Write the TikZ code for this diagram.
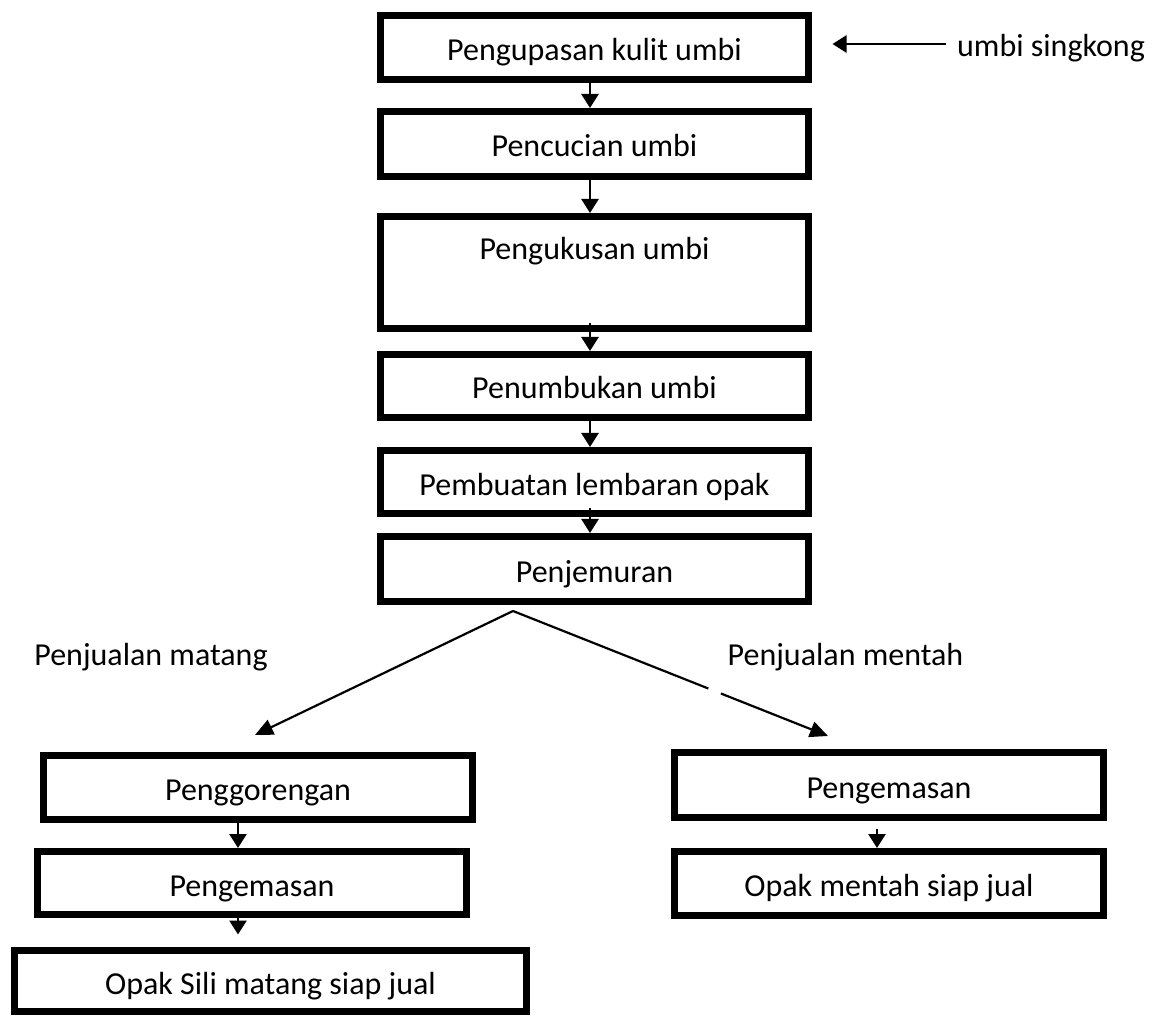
\documentclass[tikz,border=0pt]{standalone}
\usepackage{fontspec}
\setmainfont{Carlito}
\usetikzlibrary{arrows.meta,calc}
\tikzset{
  procbox/.style={draw, line width=3.5pt, minimum width=214pt, inner sep=0pt, text height=13pt, text depth=0pt, align=center},
  lbl/.style={inner sep=0pt, text height=13pt, text depth=0pt},
  flow/.style={line width=1.3pt, -{Triangle[width=8.5pt,length=7pt]}},
  branch/.style={line width=1.1pt},
  branchtip/.style={branch, -{Triangle[width=8pt,length=9pt]}},
}
\begin{document}
\begin{tikzpicture}[x=0.5pt,y=-0.5pt,font=\fontsize{16}{18}\selectfont]
  \useasboundingbox (0,0) rectangle (1153,1016);
  % main column
  \node[procbox, minimum height=32pt] (kupas) at (594.5,47.5) {Pengupasan kulit umbi};
  \node[procbox, minimum height=32.5pt] (cuci) at (594.5,144) {Pencucian umbi};
  \node[procbox, minimum height=56pt, text depth=25.5pt] (kukus) at (594.5,272.5) {Pengukusan umbi};
  \node[procbox, minimum height=31.5pt] (tumbuk) at (594.5,386) {Penumbukan umbi};
  \node[procbox, minimum height=31.5pt] (lembar) at (594.5,482) {Pembuatan lembaran opak};
  \node[procbox, minimum height=32.5pt] (jemur) at (594.5,569) {Penjemuran};
  \node[lbl] (singkong) at (1051,44) {umbi singkong};
  % left branch
  \node[procbox, minimum width=214.5pt, minimum height=32pt] (goreng) at (258,787.5) {Penggorengan};
  \node[procbox, minimum width=214.5pt, minimum height=31.5pt] (kemasL) at (252,883) {Pengemasan};
  \node[procbox, minimum width=256pt, minimum height=30.5pt] (sili) at (270.5,981) {Opak Sili matang siap jual};
  % right branch
  \node[procbox, minimum width=214.5pt, minimum height=32.5pt] (kemasR) at (889,785) {Pengemasan};
  \node[procbox, minimum width=214.5pt, minimum height=32pt] (mentah) at (889,883.5) {Opak mentah siap jual};
  \node[lbl] (lblmatang) at (151,652) {Penjualan matang};
  \node[lbl] (lblmentah) at (845.5,652) {Penjualan mentah};
  \coordinate (split) at (513,611);
  \coordinate (tipL) at (255,735);
  \coordinate (tipR) at (828,736);

  \draw[flow] ([xshift=-5.5pt]singkong.west) -- ([xshift=10.25pt]kupas.east |- singkong.west);
  \draw[flow] ([xshift=-2.25pt]kupas.south) -- ([xshift=-2.25pt]cuci.north);
  \draw[flow] ([xshift=-2.25pt]cuci.south) -- ([xshift=-2.25pt]kukus.north);
  \draw[flow] ([xshift=-2.25pt,yshift=4.25pt]kukus.south) -- ([xshift=-2.25pt]tumbuk.north);
  \draw[flow] ([xshift=-2.25pt]tumbuk.south) -- ([xshift=-2.25pt]lembar.north);
  \draw[flow] ([xshift=-2.25pt,yshift=4.25pt]lembar.south) -- ([xshift=-2.25pt]jemur.north);

  \draw[branchtip] (split) -- (tipL);
  \draw[branch] (split) -- ($(split)!0.62!(tipR)$);
  \draw[branchtip] ($(split)!0.66!(tipR)$) -- (tipR);

  \draw[flow] ([xshift=-10pt]goreng.south) -- ([xshift=-7pt]kemasL.north);
  \draw[flow] ([xshift=-7pt,yshift=3.75pt]kemasL.south) -- ([xshift=-16.25pt,yshift=6.25pt]sili.north);
  \draw[flow] ([xshift=-6pt,yshift=-3.75pt]kemasR.south) -- ([xshift=-6pt]mentah.north);
\end{tikzpicture}
\end{document}
